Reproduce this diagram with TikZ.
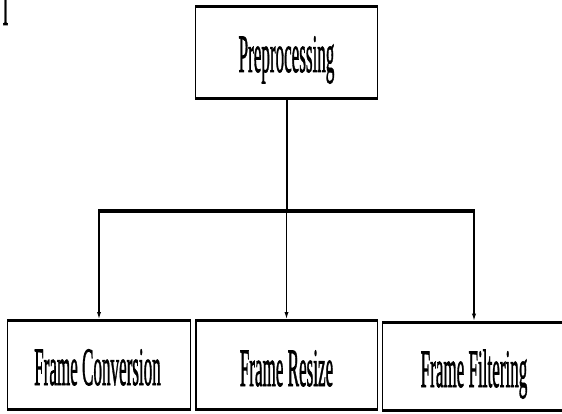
\documentclass[tikz,border=0pt]{standalone}
\usepackage{fontspec}
\setmainfont{Liberation Serif}
\newfontfamily\labelfont{Liberation Serif}[FakeBold=1.6]
\usetikzlibrary{arrows.meta}
% tall, narrow lettering used for all labels
\newcommand{\narrowtext}[1]{\scalebox{0.316}[1]{\fontsize{54}{54}\labelfont #1}}
\begin{document}
\begin{tikzpicture}[x=1pt,y=-1pt,
  stagebox/.style={rectangle, draw=none, inner sep=0pt},
  sideline/.style={line width=1.2pt, line cap=butt},
  edgeline/.style={line width=3.2pt, line cap=butt},
  labeltext/.style={inner sep=0pt, anchor=base},
  trunk/.style={line width=2pt},
  bar/.style={line width=3.4pt, line cap=butt},
  branch/.style={line width=1.1pt, -{Latex[length=7pt,width=4.2pt]}, shorten >=1.8pt}
]
\useasboundingbox (0,0) rectangle (562,414);
\clip (0,0) rectangle (562,414);

% boxes
\node[stagebox, minimum width=181pt, minimum height=92pt]   (pre)    at (286.5,52.5) {};
\node[stagebox, minimum width=182pt, minimum height=88.5pt] (conv)   at (99,365.25) {};
\node[stagebox, minimum width=181pt, minimum height=88.5pt] (resize) at (286.7,365.25) {};
\node[stagebox, minimum width=182pt, minimum height=87.3pt] (filt)   at (474,366.35) {};

% thin sides, heavy top and bottom rules
\foreach \n in {pre,conv,resize,filt}{
  \draw[sideline] (\n.north west) -- (\n.south west)
                  (\n.north east) -- (\n.south east);
  \draw[edgeline] ([xshift=-0.6pt]\n.north west) -- ([xshift=0.6pt]\n.north east);
  \draw[edgeline] ([xshift=-0.6pt]\n.south west) -- ([xshift=0.6pt]\n.south east);
}

% labels
\node[labeltext] (mark)    at (5.5,25)   {\narrowtext{I}};
\node[labeltext] (preT)    at (286.5,72) {\narrowtext{Preprocessing}};
\node[labeltext] (convT)   at (97.5,385) {\narrowtext{Frame Conversion}};
\node[labeltext] (resizeT) at (286.5,386) {\narrowtext{Frame Resize}};
\node[labeltext] (filtT)   at (474,387)  {\narrowtext{Frame Filtering}};

% connectors
\coordinate (split)  at (286.5,211);
\coordinate (splitL) at (99,211);
\coordinate (splitR) at (474,211);
\draw[trunk] (pre.south) -- (split);
\draw[bar] ([xshift=-0.6pt]splitL) -- ([xshift=0.6pt]splitR);
\draw[branch] (splitL) -- (conv.north);
\draw[branch] (split) -- (split |- resize.north);
\draw[branch] (splitR) -- (filt.north);
\end{tikzpicture}
\end{document}
